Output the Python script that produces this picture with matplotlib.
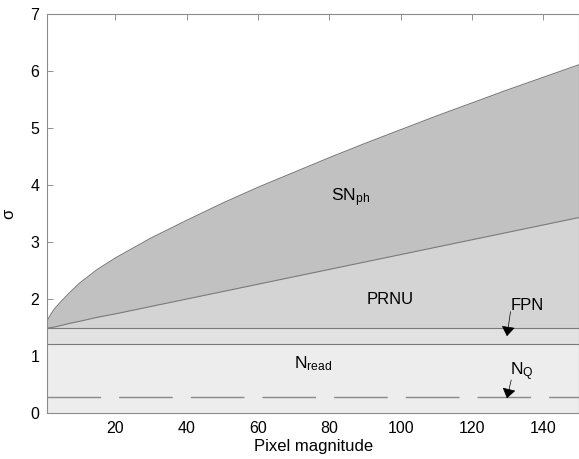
import numpy as np
import matplotlib
matplotlib.use("Agg")
import matplotlib.pyplot as plt

# -------------------------------------------------------
# Data
# -------------------------------------------------------
pixel = [1, 2, 3, 5, 7, 10, 15, 20, 30, 40, 50, 60, 70, 80, 90, 100,
         110, 120, 130, 140, 150]
prnu_top = [1.49, 1.50, 1.51, 1.54, 1.57, 1.61, 1.68, 1.74, 1.87, 2.00,
            2.13, 2.26, 2.39, 2.52, 2.65, 2.78, 2.91, 3.04, 3.17, 3.30, 3.43]
snph_top = [1.63, 1.74, 1.83, 1.97, 2.10, 2.28, 2.52, 2.72, 3.07, 3.38,
            3.68, 3.96, 4.22, 4.48, 4.73, 4.97, 5.21, 5.44, 5.67, 5.89, 6.11]
nread_level = 1.22
fpn_level = 1.485
nq_level = 0.275

x_ticks = [20, 40, 60, 80, 100, 120, 140]
y_ticks = [0, 1, 2, 3, 4, 5, 6, 7]

# -------------------------------------------------------
# Style
# -------------------------------------------------------
plt.rcParams["font.family"] = ["Liberation Sans", "DejaVu Sans"]
plt.rcParams["mathtext.default"] = "regular"

C_SNPH = "#c1c1c1"
C_PRNU = "#d4d4d4"
C_FPN = "#e2e2e2"
C_READ = "#ededed"
C_EDGE = "#7a7a7a"

fig = plt.figure(figsize=(5.79, 4.59), dpi=100)
ax = fig.add_axes([0.082, 0.1, 0.918, 0.8695])

x = np.array(pixel, dtype=float)
prnu = np.array(prnu_top)
snph = np.array(snph_top)
n = len(x)

ax.fill_between(x, 0, nread_level, color=C_READ, lw=0)
ax.fill_between(x, nread_level, fpn_level, color=C_FPN, lw=0)
ax.fill_between(x, fpn_level, prnu, color=C_PRNU, lw=0)
ax.fill_between(x, prnu, snph, color=C_SNPH, lw=0)

ax.plot(x, [nread_level] * n, color=C_EDGE, lw=0.8)
ax.plot(x, [fpn_level] * n, color=C_EDGE, lw=0.8)
ax.plot(x, prnu, color=C_EDGE, lw=0.8)
ax.plot(x, snph, color=C_EDGE, lw=0.8)
ax.plot(x, [nq_level] * n, color="#8a8a8a", lw=1.0, dashes=(38.6, 13))

# labels inside the bands
ax.text(80.5, 3.72, "SN$_{ph}$", fontsize=12.5, ha="left", va="baseline")
ax.text(90.6, 1.91, "PRNU", fontsize=12, ha="left", va="baseline")
ax.text(70.0, 0.79, "N$_{read}$", fontsize=12.5, ha="left", va="baseline")

arrow = dict(arrowstyle="-|>,head_length=0.6,head_width=0.42",
             color="black", lw=0.5, mutation_scale=10, shrinkA=0, shrinkB=0)
ax.annotate("", xy=(129.8, 1.35), xytext=(130.8, 1.78), arrowprops=arrow)
ax.annotate("", xy=(129.8, 0.26), xytext=(131.0, 0.58), arrowprops=arrow)
ax.text(130.7, 1.81, "FPN", fontsize=12, ha="left", va="baseline")
ax.text(130.7, 0.67, "N$_Q$", fontsize=12.5, ha="left", va="baseline")

ax.set_xlim(1, 150)
ax.set_ylim(0, 7)
ax.set_xticks(x_ticks)
ax.set_yticks(y_ticks)
ax.set_axisbelow(True)
ax.tick_params(direction="in", length=4, width=0.6, color="#808080",
               labelsize=11.5, top=True, right=True, pad=6)
for s in ax.spines.values():
    s.set_color("#8c8c8c")
    s.set_linewidth(0.8)
    s.set_zorder(3)

ax.set_xlabel("Pixel magnitude", fontsize=12, labelpad=2)
ax.set_ylabel("σ", fontsize=12, labelpad=10)

fig.savefig("out.png", dpi=100)
